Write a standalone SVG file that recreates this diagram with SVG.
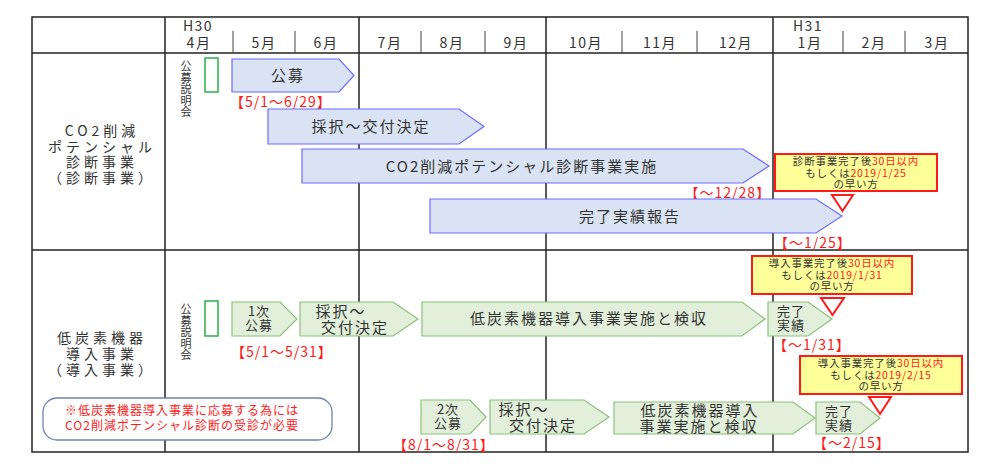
<svg xmlns="http://www.w3.org/2000/svg" width="1000" height="471" viewBox="0 0 1000 471">
<style>
text{font-family:"Noto Sans CJK JP","Noto Sans",sans-serif;fill:#333;}
.grid{stroke:#222;stroke-width:1.5;fill:none}
.tick{stroke:#444;stroke-width:1}
.mo{font-size:14px;text-anchor:middle;letter-spacing:1.5px}
.blue{fill:#dae3f3;stroke:#6b6bff;stroke-width:1.2}
.green{fill:#e2efda;stroke:#8cc17a;stroke-width:1.2}
.bt{font-size:15px;text-anchor:middle;letter-spacing:2px}
.st{font-size:13px;text-anchor:middle;letter-spacing:1px}
.red{fill:#ff1a1a;font-size:14px;letter-spacing:1px}
.call{fill:#ffff99;stroke:#ff1a1a;stroke-width:2}
.tri{fill:#fff;stroke:#ff1a1a;stroke-width:2}
.ct{font-size:10.5px;text-anchor:middle;letter-spacing:0.8px}
.ct tspan.r{fill:#ff1a1a}
.lbl{font-size:14px;text-anchor:middle;letter-spacing:4px}
.gbox{fill:#fff;stroke:#2bb04a;stroke-width:1.5}
.vt{font-size:11px;text-anchor:middle}
.nt{font-size:12px;text-anchor:middle;letter-spacing:1px;fill:#ff1a1a}
</style>
<g id="table">
<rect class="grid" x="32" y="17" width="936" height="435"/>
<line class="grid" x1="32" y1="53" x2="968" y2="53"/>
<line class="grid" x1="32" y1="250" x2="968" y2="250"/>
<line class="grid" x1="165" y1="17" x2="165" y2="452"/>
<line class="grid" x1="359" y1="17" x2="359" y2="452"/>
<line class="grid" x1="546" y1="17" x2="546" y2="452"/>
<line class="grid" x1="773" y1="17" x2="773" y2="452"/>
<g class="tick">
<line x1="233" y1="31" x2="233" y2="53"/><line x1="295" y1="31" x2="295" y2="53"/>
<line x1="421" y1="31" x2="421" y2="53"/><line x1="485" y1="31" x2="485" y2="53"/>
<line x1="622" y1="31" x2="622" y2="53"/><line x1="697" y1="31" x2="697" y2="53"/>
<line x1="843" y1="31" x2="843" y2="53"/><line x1="905" y1="31" x2="905" y2="53"/>
</g>
<text class="mo" x="198" y="31">H30</text>
<text class="mo" x="199" y="48">4月</text>
<text class="mo" x="264" y="48">5月</text>
<text class="mo" x="326" y="48">6月</text>
<text class="mo" x="390" y="48">7月</text>
<text class="mo" x="452" y="48">8月</text>
<text class="mo" x="516" y="48">9月</text>
<text class="mo" x="586" y="48">10月</text>
<text class="mo" x="660" y="48">11月</text>
<text class="mo" x="736" y="48">12月</text>
<text class="mo" x="808" y="31">H31</text>
<text class="mo" x="810" y="48">1月</text>
<text class="mo" x="874" y="48">2月</text>
<text class="mo" x="937" y="48">3月</text>
<text class="lbl" x="102" y="136">CO2削減</text>
<text class="lbl" x="102" y="152">ポテンシャル</text>
<text class="lbl" x="102" y="167">診断事業</text>
<text class="lbl" x="102" y="183">（診断事業）</text>
<text class="lbl" x="102" y="343">低炭素機器</text>
<text class="lbl" x="102" y="359">導入事業</text>
<text class="lbl" x="102" y="375">（導入事業）</text>
</g>
<g id="row1">
<text class="vt"><tspan x="186" y="70">公</tspan><tspan x="186" y="81.5">募</tspan><tspan x="186" y="93">説</tspan><tspan x="186" y="104.5">明</tspan><tspan x="186" y="116">会</tspan></text>
<rect class="gbox" x="205" y="58" width="13" height="34"/>
<g id="r1a"><path class="blue" d="M232 59H339L354 75.5L339 92H232Z"/><text class="bt" x="288" y="81">公募</text></g>
<text class="red" x="230" y="107">【5/1～6/29】</text>
<g id="r1b"><path class="blue" d="M268 109H459L484 126.5L459 144H268Z"/><text class="bt" x="371" y="132">採択～交付決定</text></g>
<g id="r1c"><path class="blue" d="M302 149H743L769 166L743 183H302Z"/><text class="bt" x="522" y="172">CO2削減ポテンシャル診断事業実施</text></g>
<text class="red" x="771" y="198" text-anchor="end">【～12/28】</text>
<g id="r1d"><path class="blue" d="M430 199H816L842 216L816 233H430Z"/><text class="bt" x="630" y="222">完了実績報告</text></g>
<text class="red" x="774" y="248">【～1/25】</text>
<g id="call1"><rect class="call" x="775" y="154" width="162" height="37"/>
<text class="ct" x="856" y="165">診断事業完了後<tspan class="r">30日以内</tspan></text>
<text class="ct" x="856" y="177">もしくは<tspan class="r">2019/1/25</tspan></text>
<text class="ct" x="856" y="188">の早い方</text>
<path class="tri" d="M832 195H853L842.5 211Z"/></g>
</g>
<g id="row2">
<text class="vt"><tspan x="186" y="313">公</tspan><tspan x="186" y="324.5">募</tspan><tspan x="186" y="336">説</tspan><tspan x="186" y="347.5">明</tspan><tspan x="186" y="359">会</tspan></text>
<rect class="gbox" x="205" y="301" width="13" height="35"/>
<g id="r2a"><path class="green" d="M232 302H280L297 319L280 336H232Z"/><text class="st" x="259" y="316">1次</text><text class="st" x="259" y="330">公募</text></g>
<g id="r2b"><path class="green" d="M300 302H393L418 319L393 336H300Z"/><text class="bt" x="341" y="317">採択～</text><text class="bt" x="355" y="333">交付決定</text></g>
<g id="r2c"><path class="green" d="M422 302H742L765 319L742 336H422Z"/><text class="bt" x="589" y="324">低炭素機器導入事業実施と検収</text></g>
<g id="r2d"><path class="green" d="M768 302H808L832 319L808 336H768Z"/><text class="st" x="791" y="316">完了</text><text class="st" x="791" y="330">実績</text></g>
<text class="red" x="231" y="357">【5/1～5/31】</text>
<text class="red" x="773" y="350">【～1/31】</text>
<g id="call2"><rect class="call" x="752" y="256" width="160" height="38"/>
<text class="ct" x="832" y="267">導入事業完了後<tspan class="r">30日以内</tspan></text>
<text class="ct" x="832" y="279">もしくは<tspan class="r">2019/1/31</tspan></text>
<text class="ct" x="832" y="290">の早い方</text>
<path class="tri" d="M821 298H844L832.5 315Z"/></g>
<g id="call3"><rect class="call" x="800" y="356" width="162" height="38"/>
<text class="ct" x="881" y="367">導入事業完了後<tspan class="r">30日以内</tspan></text>
<text class="ct" x="881" y="379">もしくは<tspan class="r">2019/2/15</tspan></text>
<text class="ct" x="881" y="390">の早い方</text>
<path class="tri" d="M869 397H891L880 414Z"/></g>
<g id="r3a"><path class="green" d="M421 400H470L486 417L470 434H421Z"/><text class="st" x="448" y="414">2次</text><text class="st" x="448" y="428">公募</text></g>
<g id="r3b"><path class="green" d="M490 400H584L609 417L584 434H490Z"/><text class="bt" x="524" y="415">採択～</text><text class="bt" x="543" y="431">交付決定</text></g>
<g id="r3c"><path class="green" d="M614 402H793L815 418L793 434H614Z"/><text class="bt" x="700" y="416">低炭素機器導入</text><text class="bt" x="699" y="432">事業実施と検収</text></g>
<g id="r3d"><path class="green" d="M816 402H860L880 418L860 434H816Z"/><text class="st" x="839" y="416">完了</text><text class="st" x="839" y="430">実績</text></g>
<text class="red" x="393" y="450">【8/1～8/31】</text>
<text class="red" x="813" y="448">【～2/15】</text>
<g id="note"><rect x="43" y="398" width="289" height="42" rx="14" fill="#fff" stroke="#6f83b0" stroke-width="1.3"/>
<text class="nt" x="182" y="415">※低炭素機器導入事業に応募する為には</text>
<text class="nt" x="182" y="430">CO2削減ポテンシャル診断の受診が必要</text></g>
</g>
</svg>
